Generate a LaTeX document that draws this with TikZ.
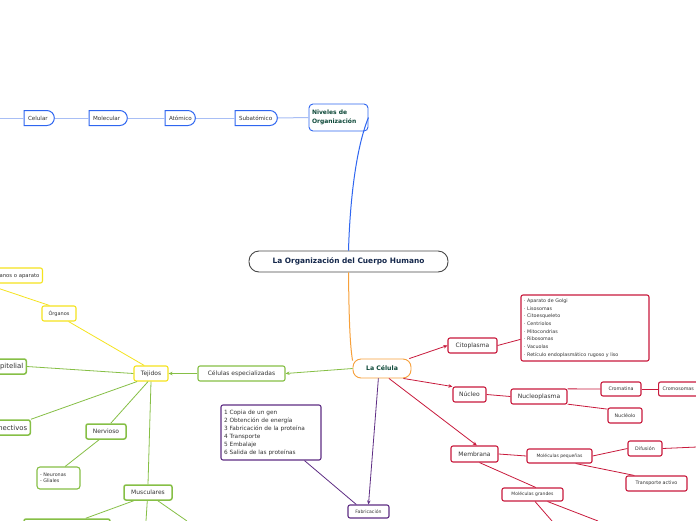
\documentclass[tikz,border=0pt]{standalone}
\usepackage{fontspec}
\setmainfont{DejaVu Sans}
\usetikzlibrary{shapes.misc,arrows.meta}
\definecolor{cblue}{HTML}{2F66F0}
\definecolor{clblue}{HTML}{A8BEF5}
\definecolor{corange}{HTML}{F7A03A}
\definecolor{cgreen}{HTML}{86BF46}
\definecolor{cyellow}{HTML}{F5E31E}
\definecolor{cred}{HTML}{C81A3C}
\definecolor{cpurple}{HTML}{5E2D84}
\definecolor{ctext}{HTML}{333333}
\definecolor{cdkgreen}{HTML}{0F4A3A}
\definecolor{cnavy}{HTML}{15284B}
\tikzset{
  bx/.style={draw, line width=1.1pt, rounded corners=2pt, fill=white, inner sep=0pt, text=ctext, font=\fontsize{6}{7}\selectfont},
  chainbox/.style={draw=cblue, line width=1pt, fill=white, rounded rectangle, rounded rectangle west arc=none, inner xsep=0pt, inner ysep=0pt, text=ctext, font=\fontsize{5.6}{7}\selectfont, minimum height=15pt, align=left},
  gbox/.style={bx, draw=cgreen},
  ybox/.style={bx, draw=cyellow},
  rbox/.style={bx, draw=cred},
  pbox/.style={bx, draw=cpurple},
  gline/.style={draw=cgreen, line width=0.8pt},
  yline/.style={draw=cyellow, line width=0.8pt},
  rline/.style={draw=cred, line width=0.8pt},
  pline/.style={draw=cpurple, line width=0.8pt},
  arr/.style={-{Stealth[length=4pt,width=3.5pt]}},
}
\begin{document}
\begin{tikzpicture}[x=1pt,y=-1pt]
\useasboundingbox (0,0) rectangle (696,520);
\fill[white] (0,0) rectangle (696,520);

% central
\node[draw=ctext!90, line width=0.9pt, rounded corners=10pt, fill=white, minimum width=199pt, minimum height=21pt, inner sep=0pt, text=cnavy, font=\bfseries\fontsize{7.4}{9}\selectfont] (central) at (348.5,261.5) {La Organización del Cuerpo Humano};

% niveles
\node[draw=cblue, line width=0.9pt, rounded corners=4pt, fill=white, minimum width=59pt, minimum height=27pt, text width=53pt, inner xsep=3pt, align=left, text=cdkgreen, font=\bfseries\fontsize{6}{8.5}\selectfont] (niveles) at (338.5,117.5) {Niveles de\\Organización};

\node[chainbox, text width=34pt, inner xsep=4pt] (subatomico) at (256,118) {Subatómico};
\node[chainbox, text width=22pt, inner xsep=4pt] (atomico) at (180,118) {Atómico};
\node[chainbox, text width=30pt, inner xsep=4pt] (molecular) at (108,118) {Molecular};
\node[chainbox, text width=22pt, inner xsep=4pt] (celular) at (39,118) {Celular};
\coordinate (chainend) at (0,118);

% chain lines
\draw[clblue, line width=1pt] (niveles.west) -- (subatomico.east);
\draw[clblue, line width=1pt] (subatomico.west) -- (atomico.east);
\draw[clblue, line width=1pt] (atomico.west) -- (molecular.east);
\draw[clblue, line width=1pt] (molecular.west) -- (celular.east);
\draw[clblue, line width=1pt] (celular.west) -- (chainend);
\draw[cblue, line width=1pt] (central.north) .. controls (350,200) and (356,148) .. (niveles.east);

% La Celula
\node[draw=corange, line width=0.9pt, rounded corners=8pt, fill=white, minimum width=58pt, minimum height=19pt, inner sep=0pt, text=cdkgreen, font=\bfseries\fontsize{6.2}{8}\selectfont] (celula) at (382,368.5) {La Célula};
\draw[corange, line width=1pt] (central.south) .. controls (349,320) and (350,345) .. (celula.165);

% left green / yellow
\node[gbox, minimum width=87pt, minimum height=15pt] (cesp) at (241.5,373.5) {Células especializadas};
\node[ybox, minimum width=34pt, minimum height=15pt] (tejidos) at (151,373.5) {Tejidos};
\node[ybox, minimum width=34pt, minimum height=15pt, font=\fontsize{5}{6}\selectfont] (organos) at (59,313.5) {Órganos};
\node[ybox, minimum height=15pt, inner xsep=3pt, anchor=east, font=\fontsize{5.3}{6}\selectfont] (sistemas) at (43,275.5) {Sistemas de órganos o aparato};
\node[gbox, line width=1.5pt, minimum height=15pt, inner xsep=3pt, anchor=east, font=\fontsize{6.9}{7}\selectfont] (epitelial) at (27,366.5) {Epitelial};
\node[gbox, line width=1.5pt, minimum height=15pt, inner xsep=3pt, anchor=east, font=\fontsize{6.9}{7}\selectfont] (conectivos) at (31,427.5) {Conectivos};
\node[gbox, line width=1.5pt, minimum width=40pt, minimum height=15pt] (nervioso) at (106,431.5) {Nervioso};
\node[gbox, rounded corners=3pt, minimum width=43pt, minimum height=22pt, text width=37pt, inner xsep=3pt, align=left, font=\fontsize{4.8}{6.5}\selectfont] (neuronas) at (58.5,478) {- Neuronas\\- Gliales};
\node[gbox, line width=1.5pt, minimum width=48pt, minimum height=15pt] (musculares) at (148,492.5) {Musculares};
\node[gbox, line width=1.5pt, minimum width=86pt, minimum height=16pt] (mbottom) at (67,527) {};
\coordinate (mb2) at (146,521);
\coordinate (mb3) at (187,521);
\coordinate (conend) at (-2,450);

\draw[gline, arr] (celula.west) -- (cesp.east);
\draw[gline, arr] (cesp.west) -- (tejidos.east);
\draw[yline] (tejidos.130) -- (organos.-40);
\draw[yline] (organos.140) -- (sistemas.-150);
\draw[gline] (tejidos.west) -- (epitelial.east);
\draw[gline] (tejidos.-150) -- (conectivos.north east);
\draw[gline] (conectivos.-150) -- (conend);
\draw[gline] (tejidos.-110) -- (nervioso.60);
\draw[gline] (nervioso.-130) -- (neuronas.60);
\draw[gline] (tejidos.-90) -- (musculares.north);
\draw[gline] (musculares.-150) -- (mbottom.25);
\draw[gline] (musculares.-95) -- (mb2);
\draw[gline] (musculares.-40) -- (mb3);

% purple
\node[pbox, minimum width=100pt, minimum height=55pt, text width=94pt, inner xsep=3pt, align=left, font=\fontsize{5.8}{8}\selectfont] (steps) at (271,432.5) {1 Copia de un gen\\2 Obtención de energía\\3 Fabricación de la proteína\\4 Transporte\\5 Embalaje\\6 Salida de las proteínas};
\node[pbox, minimum width=41pt, minimum height=13pt, font=\fontsize{4.6}{6}\selectfont] (fabricacion) at (368.5,511.5) {Fabricación};
\draw[pline, arr] (celula.-110) -- (fabricacion.north);
\draw[pline] (steps.-40) -- (fabricacion.150);

% red right side
\node[rbox, minimum width=49pt, minimum height=15pt] (citoplasma) at (472.5,345.5) {Citoplasma};
\node[rbox, minimum width=128pt, minimum height=66pt, text width=122pt, inner xsep=3pt, align=left, font=\fontsize{4.8}{7.7}\selectfont] (organelos) at (585,328) {· Aparato de Golgi\\· Lisosomas\\· Citoesqueleto\\· Centriolos\\· Mitocondrias\\· Ribosomas\\· Vacuolas\\· Retículo endoplasmático rugoso y liso};
\node[rbox, minimum width=33pt, minimum height=15pt] (nucleo) at (469.5,394.5) {Núcleo};
\node[rbox, minimum width=56pt, minimum height=15pt] (nucleoplasma) at (539,396.5) {Nucleoplasma};
\node[rbox, minimum width=40pt, minimum height=14pt, font=\fontsize{4.8}{6}\selectfont] (cromatina) at (621,389) {Cromatina};
\node[rbox, minimum height=14pt, inner xsep=4pt, anchor=west, font=\fontsize{4.8}{6}\selectfont] (cromosomas) at (658,389) {Cromosomas};
\node[rbox, minimum width=34pt, minimum height=15pt, font=\fontsize{4.8}{6}\selectfont] (nucleolo) at (625,415.5) {Nucléolo};
\node[rbox, minimum width=47pt, minimum height=16pt] (membrana) at (474.5,454) {Membrana};
\node[rbox, minimum width=65pt, minimum height=14pt, font=\fontsize{4.5}{6}\selectfont] (mpeq) at (559.5,456) {Moléculas pequeñas};
\node[rbox, minimum width=34pt, minimum height=15pt, font=\fontsize{4.8}{6}\selectfont] (difusion) at (645,448.5) {Difusión};
\node[rbox, minimum width=61pt, minimum height=15pt, font=\fontsize{4.8}{6}\selectfont] (tactivo) at (656.5,483.5) {Transporte activo};
\node[rbox, minimum width=61pt, minimum height=13pt, font=\fontsize{4.5}{6}\selectfont] (mgrandes) at (532.5,494.5) {Moléculas grandes};
\coordinate (difend) at (697,447);
\coordinate (mg1) at (552,521);
\coordinate (mg2) at (598,521);

\draw[rline, arr] (celula.20) -- (citoplasma.west);
\draw[rline] (citoplasma.east) -- (organelos.-170);
\draw[rline, arr] (celula.-25) -- (nucleo.155);
\draw[rline] (nucleo.east) -- (nucleoplasma.west);
\draw[rline] (nucleoplasma.15) -- (cromatina.west);
\draw[rline] (cromatina.east) -- (cromosomas.west);
\draw[rline] (nucleoplasma.-15) -- (nucleolo.160);
\draw[rline, arr] (celula.-55) -- (membrana.75);
\draw[rline] (membrana.east) -- (mpeq.west);
\draw[rline] (mpeq.east) -- (difusion.west);
\draw[rline] (difusion.east) -- (difend);
\draw[rline] (mpeq.-25) -- (tactivo.160);
\draw[rline] (membrana.-60) -- (mgrandes.65);
\draw[rline] (mgrandes.-70) -- (mg1);
\draw[rline] (mgrandes.-25) -- (mg2);
\end{tikzpicture}
\end{document}
